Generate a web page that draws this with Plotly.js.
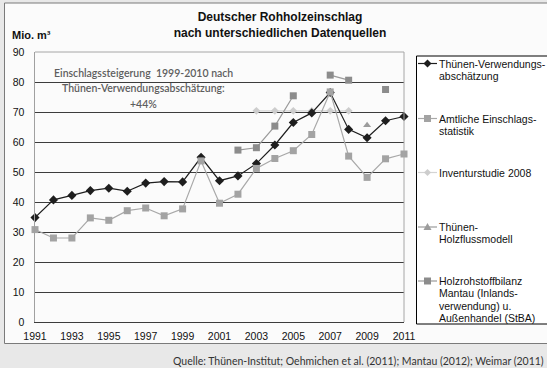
<!DOCTYPE html>
<html>
<head>
<meta charset="utf-8">
<script src="https://cdn.plot.ly/plotly-3.0.1.min.js"></script>
<style>
  html, body { margin: 0; padding: 0; background: #e8e8e8; }
  #chart { width: 547px; height: 368px; }
</style>
</head>
<body>
<div id="chart"></div>
<script>
// Rohholzeinschlag in Deutschland (Mio. m³) nach Datenquelle
const years = [1991, 1992, 1993, 1994, 1995, 1996, 1997, 1998, 1999, 2000,
               2001, 2002, 2003, 2004, 2005, 2006, 2007, 2008, 2009, 2010, 2011];
const thuenenVerwendung = [34.8, 40.7, 42.2, 43.8, 44.6, 43.6, 46.3, 46.8, 46.7, 54.9,
                           47.1, 48.7, 52.8, 59.0, 66.5, 69.7, 76.5, 64.2, 61.4, 67.1, 68.5];
const amtlicheStatistik = [30.8, 28.0, 28.0, 34.7, 33.9, 37.1, 38.0, 35.4, 37.7, 53.7,
                           39.6, 42.6, 51.2, 54.5, 57.1, 62.5, 76.7, 55.3, 48.2, 54.4, 56.0];
const inventurYears = [2003, 2004, 2005, 2006, 2007, 2008];
const inventurstudie = [70.4, 70.4, 70.4, 70.4, 70.4, 70.4];
const holzflussYears = [2009];
const holzflussmodell = [65.6];
const mantauYears = [2002, 2003, 2004, 2005, 2006, 2007, 2008, 2009, 2010];
const mantauBilanz = [57.3, 58.1, 65.3, 75.4, null, 82.3, 80.6, null, 77.5];

const seriesLabels = [
  'Thünen-Verwendungs-<br>abschätzung',
  'Amtliche Einschlags-<br>statistik',
  'Inventurstudie 2008',
  'Thünen-<br>Holzflussmodell',
  'Holzrohstoffbilanz<br>Mantau (Inlands-<br>verwendung) u.<br>Außenhandel (StBA)'
];
const noteLines = ['Einschlagssteigerung\u00a0 1999-2010 nach', 'Thünen-Verwendungsabschätzung:', '+44%'];
const xTickYears = [1991, 1993, 1995, 1997, 1999, 2001, 2003, 2005, 2007, 2009, 2011];
const yTicks = [0, 10, 20, 30, 40, 50, 60, 70, 80, 90];

// plot frame in pixels (used to place paper-referenced decorations)
const W = 547, H = 368;
const M = { l: 35, r: 143, t: 52, b: 46 };
const plotW = W - M.l - M.r, plotH = H - M.t - M.b;
const xp = px => (px - M.l) / plotW;
const yp = py => (H - M.b - py) / plotH;

// per-series styles and the glyph used for the legend symbol
const styles = [
  { line: '#1e1e1e', marker: '#1e1e1e', symbol: 'diamond', size: 7, glyph: 'M0,4L4,0L0,-4L-4,0Z', mode: 'lines+markers' },
  { line: '#a8a8a8', marker: '#a3a3a3', symbol: 'square', size: 7, glyph: 'M-3.5,-3.5H3.5V3.5H-3.5Z', mode: 'lines+markers' },
  { line: '#d4d4d4', marker: '#cdcdcd', symbol: 'diamond', size: 6, glyph: 'M0,3.5L3.5,0L0,-3.5L-3.5,0Z', mode: 'lines+markers' },
  { line: '#9c9c9c', marker: '#9c9c9c', symbol: 'triangle-up', size: 7, glyph: 'M-4,-3L4,-3L0,4Z', mode: 'markers' },
  { line: '#9a9a9a', marker: '#8c8c8c', symbol: 'square', size: 7, glyph: 'M-3.5,-3.5H3.5V3.5H-3.5Z', mode: 'lines+markers' }
];
const seriesX = [years, years, inventurYears, holzflussYears, mantauYears];
const seriesY = [thuenenVerwendung, amtlicheStatistik, inventurstudie, holzflussmodell, mantauBilanz];

function makeTrace(i) {
  const s = styles[i];
  return {
    x: seriesX[i], y: seriesY[i], name: seriesLabels[i].replace(/<br>/g, ' '),
    type: 'scatter', mode: s.mode, connectgaps: false, cliponaxis: false,
    line: { color: s.line, width: 1.2 },
    marker: { symbol: s.symbol, size: s.size, color: s.marker, line: { width: 0 } },
    hoverinfo: 'x+y+name'
  };
}
// drawing order: light reference lines first, official statistics on top
const drawOrder = [2, 4, 0, 1, 3];
const traces = drawOrder.map(makeTrace);

// legend box drawn beside the plot
const legendLeft = 416.5, legendTop = 56, legendBottom = 324;
const itemY = [63.5, 118.5, 172.5, 227, 281];
const lineStep = 12.4;
const legendFont = { family: 'Liberation Sans, Arial, sans-serif', size: 10.5, color: '#111111' };
const shapes = [
  { type: 'rect', xref: 'paper', yref: 'paper', x0: xp(4.5), x1: xp(620), y0: yp(343.5), y1: yp(3),
    line: { color: '#7a7a7a', width: 1 }, fillcolor: '#fbfbfb', layer: 'below' },
  { type: 'rect', xref: 'paper', yref: 'paper', x0: xp(legendLeft), x1: xp(620), y0: yp(legendBottom), y1: yp(legendTop),
    line: { color: '#000000', width: 1 }, fillcolor: '#ffffff', layer: 'below' },
  { type: 'line', xref: 'paper', yref: 'paper', x0: 0, x1: 1, y0: 1, y1: 1,
    line: { color: '#a6a6a6', width: 1 }, layer: 'above' },
  { type: 'line', xref: 'paper', yref: 'paper', x0: 1, x1: 1, y0: 0, y1: 1,
    line: { color: '#a6a6a6', width: 1 }, layer: 'above' }
];
const annotations = [];
styles.forEach((s, i) => {
  shapes.push({ type: 'line', xref: 'paper', yref: 'paper', x0: xp(418), x1: xp(437), y0: yp(itemY[i]), y1: yp(itemY[i]),
    line: { color: s.line, width: 1.2 }, layer: 'below' });
  shapes.push({ type: 'path', xref: 'paper', yref: 'paper', xsizemode: 'pixel', ysizemode: 'pixel',
    xanchor: xp(427.5), yanchor: yp(itemY[i]), path: s.glyph,
    fillcolor: s.marker, line: { width: 0 }, layer: 'below' });
  seriesLabels[i].split('<br>').forEach((txt, k) => {
    annotations.push({ xref: 'paper', yref: 'paper', x: xp(437), y: yp(itemY[i] + k * lineStep),
      xanchor: 'left', yanchor: 'middle', align: 'left', showarrow: false, text: txt, font: legendFont });
  });
});

// note on the increase, one annotation per line for the wider line spacing
const noteY = [72.5, 88, 103.5];
noteLines.forEach((txt, k) => {
  annotations.push({ xref: 'paper', yref: 'paper', x: xp(143), y: yp(noteY[k]), xanchor: 'center', yanchor: 'middle',
    showarrow: false, text: txt,
    font: { family: 'Lato, sans-serif', size: 10.5, color: '#5e5e5e', weight: 600 } });
});

annotations.push(
  { xref: 'paper', yref: 'paper', x: xp(10), y: yp(35), xanchor: 'left', yanchor: 'middle', showarrow: false,
    text: 'Mio. m³', font: { family: 'Liberation Sans, Arial, sans-serif', size: 11, color: '#111111', weight: 'bold' } },
  { xref: 'paper', yref: 'paper', x: xp(546), y: yp(361), xanchor: 'right', yanchor: 'middle', showarrow: false,
    text: 'Quelle: Thünen-Institut; Oehmichen et al. (2011); Mantau (2012); Weimar (2011)',
    font: { family: 'Lato, sans-serif', size: 10.5, color: '#333333' } }
);

const layout = {
  width: W, height: H,
  margin: { l: M.l, r: M.r, t: M.t, b: M.b, autoexpand: false },
  paper_bgcolor: '#e8e8e8', plot_bgcolor: '#ffffff',
  showlegend: false,
  font: { family: 'Liberation Sans, Arial, sans-serif', size: 10, color: '#111111' },
  title: {
    text: 'Deutscher Rohholzeinschlag<br>nach unterschiedlichen Datenquellen',
    font: { family: 'Liberation Sans, Arial, sans-serif', size: 12, color: '#111111', weight: 'bold' },
    xref: 'container', x: 280 / W, xanchor: 'center',
    yref: 'container', y: 1 - 21 / H, yanchor: 'top'
  },
  xaxis: {
    range: [1991, 2011], tickvals: xTickYears, ticktext: xTickYears.map(String),
    showgrid: false, zeroline: false, showline: true, linecolor: '#3c3c3c', linewidth: 1,
    ticks: '', ticklabelstandoff: 4, tickfont: { size: 10.5 }, fixedrange: true
  },
  yaxis: {
    range: [0, 90], tickvals: yTicks,
    showgrid: true, gridcolor: '#3c3c3c', gridwidth: 1,
    zeroline: false, showline: true, linecolor: '#a0a0a0', linewidth: 1.5,
    ticks: '', ticklabelstandoff: 7, tickfont: { size: 10.5 }, fixedrange: true
  },
  shapes: shapes,
  annotations: annotations
};

Plotly.newPlot('chart', traces, layout, { displayModeBar: false, staticPlot: true });
</script>
</body>
</html>
